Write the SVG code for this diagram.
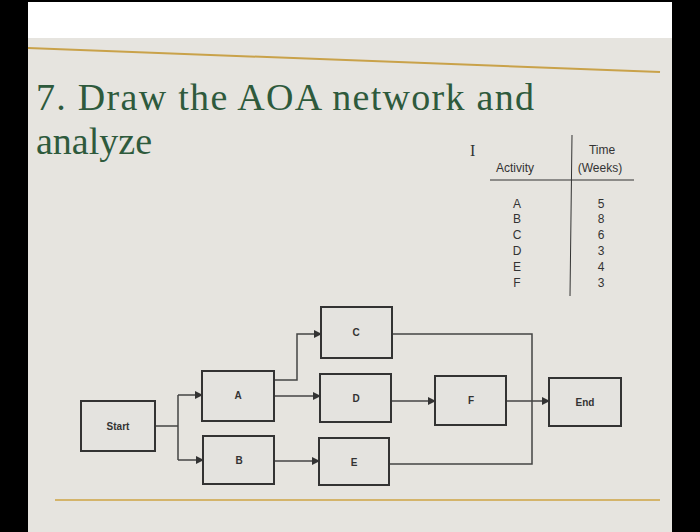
<svg xmlns="http://www.w3.org/2000/svg" width="700" height="532" viewBox="0 0 700 532">
<style>
.n{fill:#e4e3df;stroke:#333;stroke-width:2}
.l{font-family:"Liberation Sans",Arial,sans-serif;font-size:10px;font-weight:bold;fill:#333;text-anchor:middle}
.t{font-family:"Liberation Sans",Arial,sans-serif;font-size:12px;fill:#333;text-anchor:middle}
.h{font-family:"Liberation Serif","Times New Roman",serif;font-size:38px;fill:#2e5a3c}
.c{fill:none;stroke:#444;stroke-width:1.5}
</style>
<defs><marker id="ar" markerWidth="8" markerHeight="8" refX="7" refY="4" orient="auto" markerUnits="userSpaceOnUse"><path d="M0,0L8,4L0,8z" fill="#333"/></marker></defs>
<rect width="700" height="532" fill="#000"/>
<rect x="28" y="2" width="644" height="38" fill="#fff"/>
<rect x="28" y="38" width="644" height="494" fill="#e6e4df"/>
<line x1="28" y1="48" x2="660" y2="72" stroke="#c9a24a" stroke-width="2"/>
<line x1="55" y1="500" x2="660" y2="500" stroke="#d4b46a" stroke-width="2"/>
<text class="h" x="36" y="110" textLength="498">7. Draw the AOA network and</text>
<text class="h" x="36" y="154">analyze</text>
<text x="470" y="156" font-family="Liberation Serif,serif" font-size="16" fill="#333">I</text>
<g id="table">
<text class="t" x="515" y="172">Activity</text>
<text class="t" x="602" y="154">Time</text>
<text class="t" x="600" y="172">(Weeks)</text>
<line x1="490" y1="180" x2="634" y2="180" stroke="#333"/>
<line x1="572" y1="135" x2="570" y2="296" stroke="#333"/>
<g class="t" font-size="11"><text x="517" y="208">A</text><text x="517" y="223">B</text><text x="517" y="239">C</text><text x="517" y="255">D</text><text x="517" y="271">E</text><text x="517" y="287">F</text>
<text x="601" y="208">5</text><text x="601" y="223">8</text><text x="601" y="239">6</text><text x="601" y="255">3</text><text x="601" y="271">4</text><text x="601" y="287">3</text></g>
</g>
<g id="connectors">
<path class="c" d="M155,426H178M178,395V460M178,395H202" marker-end="url(#ar)"/>
<path class="c" d="M178,460H203" marker-end="url(#ar)"/>
<path class="c" d="M274,380H297V334H321" marker-end="url(#ar)"/>
<path class="c" d="M274,396H320" marker-end="url(#ar)"/>
<path class="c" d="M391,401H435" marker-end="url(#ar)"/>
<path class="c" d="M506,401H549" marker-end="url(#ar)"/>
<path class="c" d="M274,461H319" marker-end="url(#ar)"/>
<path class="c" d="M392,334H532V464H389"/>
</g>
<g id="C"><rect class="n" x="321" y="307" width="71" height="51"/><text class="l" x="356" y="336">C</text></g>
<g id="A"><rect class="n" x="202" y="371" width="72" height="50"/><text class="l" x="238" y="399">A</text></g>
<g id="D"><rect class="n" x="320" y="374" width="71" height="48"/><text class="l" x="356" y="402">D</text></g>
<g id="F"><rect class="n" x="435" y="376" width="71" height="49"/><text class="l" x="471" y="404">F</text></g>
<g id="End"><rect class="n" x="549" y="378" width="72" height="48"/><text class="l" x="585" y="406">End</text></g>
<g id="Start"><rect class="n" x="81" y="401" width="74" height="50"/><text class="l" x="118" y="430">Start</text></g>
<g id="B"><rect class="n" x="203" y="436" width="71" height="48"/><text class="l" x="239" y="464">B</text></g>
<g id="E"><rect class="n" x="319" y="438" width="70" height="47"/><text class="l" x="354" y="466">E</text></g>
</svg>
